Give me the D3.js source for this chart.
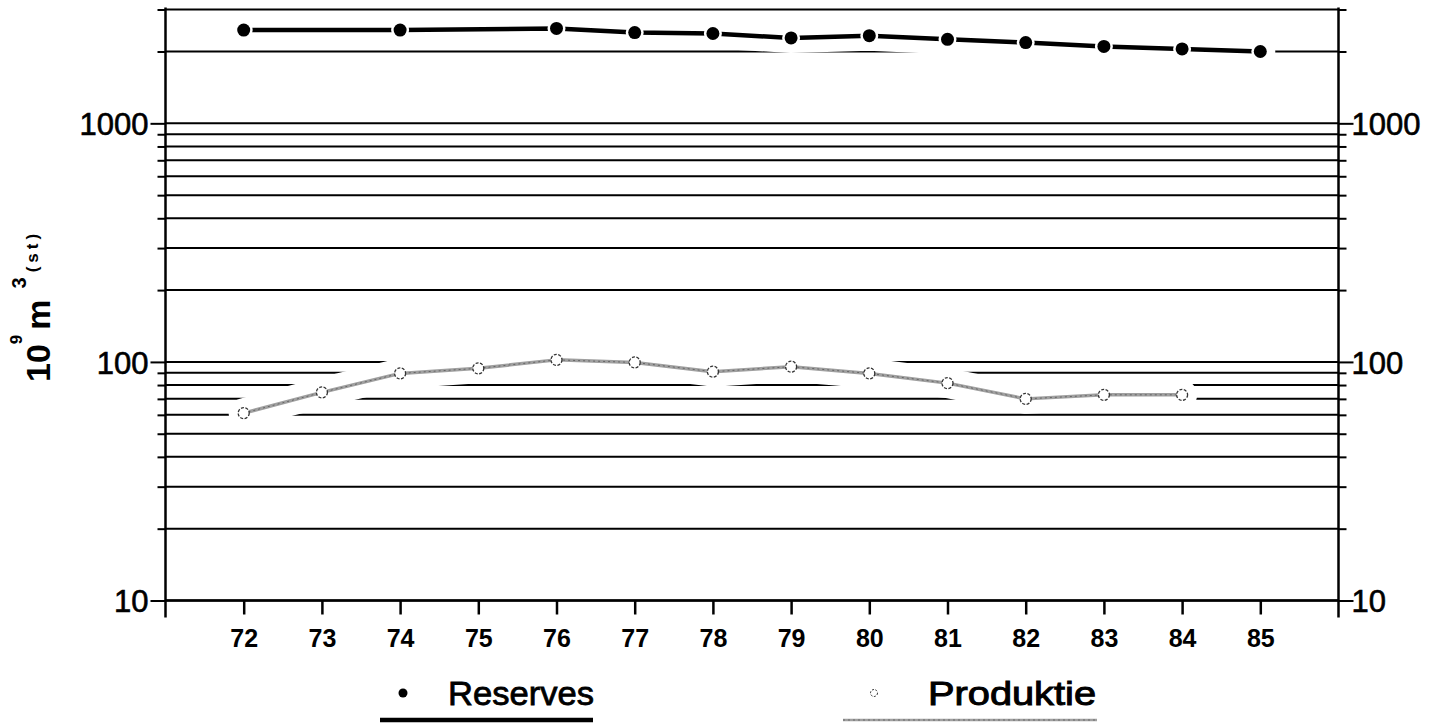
<!DOCTYPE html>
<html>
<head>
<meta charset="utf-8">
<script src="https://cdn.jsdelivr.net/npm/d3@7"></script>
<style>
  html, body { margin: 0; padding: 0; background: #fff; }
  svg { display: block; font-family: "Liberation Sans", Arial, Helvetica, sans-serif; }
</style>
</head>
<body>
<svg id="chart" width="1437" height="725"></svg>
<script>
// Gas reserves and annual production, 10^9 m3 (st), log scale
const reserveYears = [72, 74, 76, 77, 78, 79, 80, 81, 82, 83, 84, 85];
const reserveValues = [2460, 2460, 2500, 2400, 2380, 2280, 2330, 2250, 2180, 2100, 2050, 2000];

const productionYears = [72, 73, 74, 75, 76, 77, 78, 79, 80, 81, 82, 83, 84];
const productionValues = [61, 74.5, 89.5, 94, 102, 99.5, 91, 95.5, 89.5, 81.5, 70, 72.8, 72.8];

const xTickLabels = [72, 73, 74, 75, 76, 77, 78, 79, 80, 81, 82, 83, 84, 85];
const yTickLabels = [10, 100, 1000];
const legendLabels = ["Reserves", "Produktie"];

const svg = d3.select("#chart");

const x = d3.scaleLinear().domain([71, 86]).range([165.5, 1338.5]);
const y = d3.scaleLog().domain([10, 3000]).range([600.5, 9.5]);

const plotLeft = x.range()[0], plotRight = x.range()[1];
const plotTop = y.range()[1], plotBottom = y.range()[0];

// horizontal grid lines at every log tick
const gridValues = y.ticks();
svg.append("g").selectAll("line")
  .data(gridValues)
  .join("line")
  .attr("x1", plotLeft).attr("x2", plotRight)
  .attr("y1", d => y(d)).attr("y2", d => y(d))
  .attr("stroke", "#000").attr("stroke-width", 2);

const reserves = reserveYears.map((yr, i) => ({ yr, v: reserveValues[i] }));
const production = productionYears.map((yr, i) => ({ yr, v: productionValues[i] }));

const line = d3.line().x(d => x(d.yr)).y(d => y(d.v));

// white halo that interrupts the grid around both series
[reserves, production].forEach(data => {
  svg.append("path")
    .attr("d", line(data))
    .attr("fill", "none")
    .attr("stroke", "#fff")
    .attr("stroke-width", 30)
    .attr("stroke-linecap", "round")
    .attr("stroke-linejoin", "round");
});

// axes
const isMajor = d => yTickLabels.includes(d);
const yFmt = d => isMajor(d) ? d3.format("d")(d) : "";

const gLeft = svg.append("g").attr("transform", `translate(${plotLeft},0)`)
  .call(d3.axisLeft(y).tickValues(gridValues).tickSize(8).tickPadding(6).tickFormat(yFmt));
const gRight = svg.append("g").attr("transform", `translate(${plotRight},0)`)
  .call(d3.axisRight(y).tickValues(gridValues).tickSize(8).tickPadding(6).tickFormat(yFmt));

[gLeft, gRight].forEach((g, k) => {
  g.select(".domain").remove();
  g.selectAll(".tick line").attr("stroke", "#000").attr("stroke-width", 2)
    .filter(d => isMajor(d)).attr("x2", k === 0 ? -15 : 15);
  g.selectAll(".tick text")
    .attr("x", k === 0 ? -17 : 13)
    .attr("font-size", 31)
    .attr("fill", "#000")
    .attr("stroke", "#000").attr("stroke-width", 0.6)
    .attr("dy", "0.36em");
});

const gBottom = svg.append("g").attr("transform", `translate(0,${plotBottom})`)
  .call(d3.axisBottom(x).tickValues(xTickLabels).tickSize(14).tickPadding(15).tickFormat(d => d));
gBottom.select(".domain").remove();
gBottom.selectAll(".tick line").attr("stroke", "#000").attr("stroke-width", 2.5);
gBottom.selectAll(".tick text")
  .attr("font-size", 25).attr("font-weight", "bold").attr("fill", "#000");

// frame: bottom line and both vertical axes
svg.append("line").attr("x1", plotLeft).attr("x2", plotRight).attr("y1", plotBottom).attr("y2", plotBottom)
  .attr("stroke", "#000").attr("stroke-width", 2.5);
[plotLeft, plotRight].forEach(xx => {
  svg.append("line").attr("x1", xx).attr("x2", xx).attr("y1", plotTop - 2).attr("y2", plotBottom + 17)
    .attr("stroke", "#000").attr("stroke-width", 2.5);
});

// production series: grey textured line with open circles
svg.append("path")
  .attr("d", line(production))
  .attr("fill", "none").attr("stroke", "#a0a0a0").attr("stroke-width", 3.5)
  .attr("stroke-linejoin", "round");
svg.append("path")
  .attr("d", line(production))
  .attr("fill", "none").attr("stroke", "#555").attr("stroke-width", 0.8)
  .attr("stroke-dasharray", "2 3");
svg.append("g").selectAll("circle")
  .data(production)
  .join("circle")
  .attr("cx", d => x(d.yr)).attr("cy", d => y(d.v)).attr("r", 5.5)
  .attr("fill", "#fff").attr("stroke", "#333").attr("stroke-width", 1.3)
  .attr("stroke-dasharray", "3 1.5");

// reserves series: heavy black line with solid dots
svg.append("path")
  .attr("d", line(reserves))
  .attr("fill", "none").attr("stroke", "#000").attr("stroke-width", 4.5)
  .attr("stroke-linejoin", "round");
svg.append("g").selectAll("circle")
  .data(reserves)
  .join("circle")
  .attr("cx", d => x(d.yr)).attr("cy", d => y(d.v)).attr("r", 6.5)
  .attr("fill", "#000").attr("stroke", "#fff").attr("stroke-width", 5)
  .attr("paint-order", "stroke");

// y-axis title: 10^9 m^3 (st)
const title = svg.append("text")
  .attr("transform", "translate(50,382) rotate(-90)")
  .attr("font-weight", "bold").attr("fill", "#000");
title.append("tspan").attr("font-size", 34).text("10");
title.append("tspan").attr("font-size", 17).attr("dy", -28).text("9");
title.append("tspan").attr("font-size", 34).attr("dy", 28).attr("dx", 5).text("m");
title.append("tspan").attr("font-size", 20).attr("dy", -24).attr("dx", 11).text("3");
title.append("tspan").attr("font-size", 17).attr("dy", 12).attr("dx", 5)
  .attr("letter-spacing", 4).text("(st)");

// legend
const legend = svg.append("g");
legend.append("circle").attr("cx", 403).attr("cy", 693).attr("r", 4.5).attr("fill", "#000");
legend.append("text").attr("x", 448).attr("y", 705)
  .attr("font-size", 34).attr("fill", "#000").attr("stroke", "#000").attr("stroke-width", 0.8)
  .attr("textLength", 146).attr("lengthAdjust", "spacingAndGlyphs")
  .text(legendLabels[0]);
legend.append("line").attr("x1", 380).attr("x2", 593).attr("y1", 720).attr("y2", 720)
  .attr("stroke", "#000").attr("stroke-width", 4.5);

legend.append("circle").attr("cx", 874).attr("cy", 693).attr("r", 3.5)
  .attr("fill", "#fff").attr("stroke", "#333").attr("stroke-width", 1).attr("stroke-dasharray", "2 1.5");
legend.append("text").attr("x", 928).attr("y", 705)
  .attr("font-size", 34).attr("fill", "#000").attr("stroke", "#000").attr("stroke-width", 1)
  .attr("textLength", 168).attr("lengthAdjust", "spacingAndGlyphs")
  .text(legendLabels[1]);
legend.append("line").attr("x1", 843).attr("x2", 1097).attr("y1", 720).attr("y2", 720)
  .attr("stroke", "#a0a0a0").attr("stroke-width", 2.5);
legend.append("line").attr("x1", 843).attr("x2", 1097).attr("y1", 720).attr("y2", 720)
  .attr("stroke", "#555").attr("stroke-width", 0.7).attr("stroke-dasharray", "2 3");
</script>
</body>
</html>
